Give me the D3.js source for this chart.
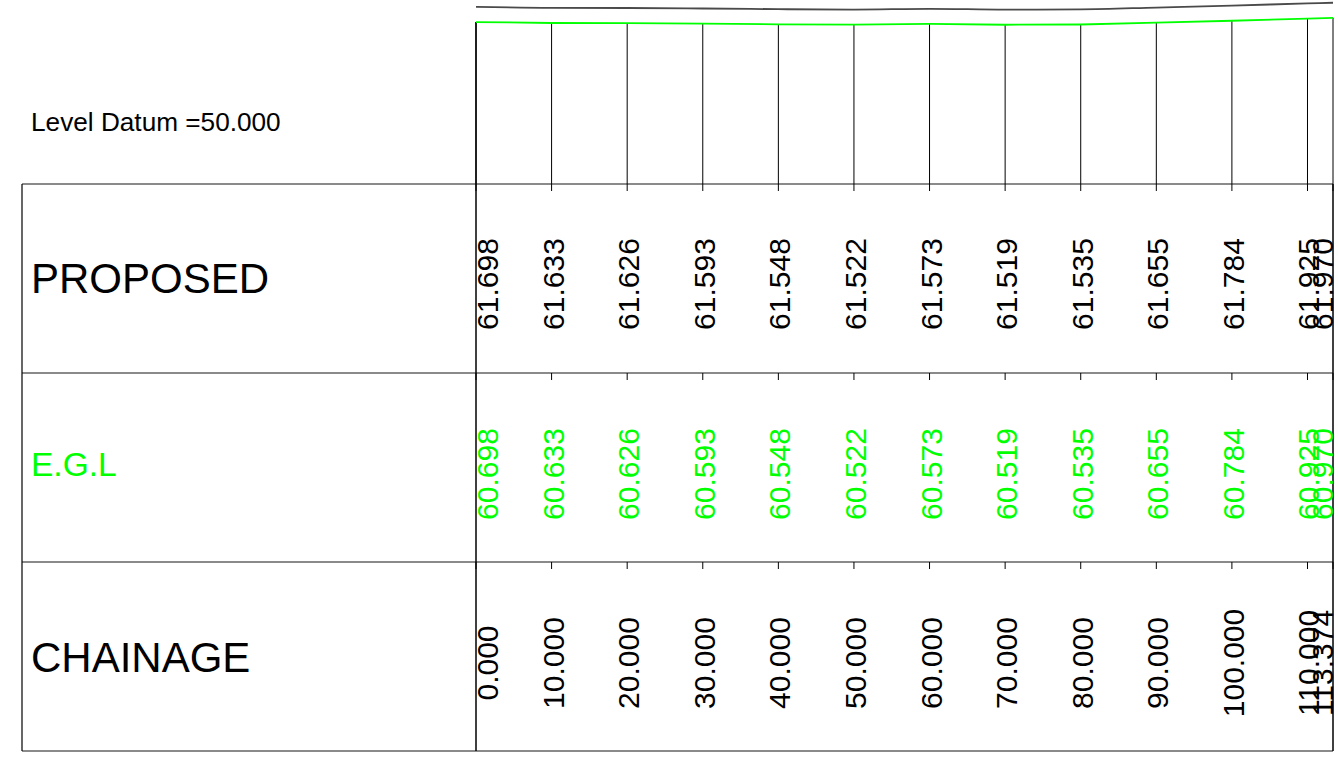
<!DOCTYPE html>
<html>
<head>
<meta charset="utf-8">
<script src="https://cdn.jsdelivr.net/npm/d3@7"></script>
<style>
  body { margin: 0; background: #fff; }
  svg { display: block; }
  text { font-family: "Liberation Sans", Arial, sans-serif; }
</style>
</head>
<body>
<svg width="1338" height="765"></svg>
<script>
// section data
var chainage = [0, 10, 20, 30, 40, 50, 60, 70, 80, 90, 100, 110, 113.374];
var proposed = [61.698, 61.633, 61.626, 61.593, 61.548, 61.522, 61.573, 61.519, 61.535, 61.655, 61.784, 61.925, 61.970];
var egl = [60.698, 60.633, 60.626, 60.593, 60.548, 60.522, 60.573, 60.519, 60.535, 60.655, 60.784, 60.925, 60.970];
var rowLabels = ["PROPOSED", "E.G.L", "CHAINAGE"];
var datum = 50;

var svg = d3.select("svg");

var left = 22, split = 476, right = 1333;
var rows = [184, 373, 562, 751];
var green = "#00ff00";

var x = d3.scaleLinear().domain([0, 113.374]).range([split, right]);
var y = d3.scaleLinear().domain([datum, datum + 10]).range([rows[0], rows[0] - 151.4]);

var pts = chainage.map(function(c, i) {
  return { ch: c, pro: proposed[i], egl: egl[i] };
});

// datum text
svg.append("text")
  .attr("x", 31)
  .attr("y", 131)
  .attr("font-size", 26.2)
  .attr("fill", "#000")
  .text("Level Datum =" + datum.toFixed(3));

// table grid
svg.selectAll(".hline")
  .data(rows)
  .enter()
  .append("line")
  .attr("class", "hline")
  .attr("x1", left).attr("x2", right)
  .attr("y1", (d) => d).attr("y2", (d) => d)
  .attr("stroke", "#8a8a8a")
  .attr("stroke-width", 2);

svg.append("line")
  .attr("x1", left).attr("x2", left)
  .attr("y1", rows[0]).attr("y2", rows[3])
  .attr("stroke", "#000").attr("stroke-width", 1.2);

svg.append("line")
  .attr("x1", right).attr("x2", right)
  .attr("y1", rows[0]).attr("y2", rows[3])
  .attr("stroke", "#000").attr("stroke-width", 1.5);

svg.append("line")
  .attr("x1", split).attr("x2", split)
  .attr("y1", y(egl[0])).attr("y2", rows[3])
  .attr("stroke", "#000").attr("stroke-width", 1.5);

// station verticals from ground line down through datum
svg.selectAll(".station")
  .data(pts)
  .enter()
  .append("line")
  .attr("class", "station")
  .attr("x1", (d) => x(d.ch)).attr("x2", (d) => x(d.ch))
  .attr("y1", (d) => y(d.egl)).attr("y2", rows[0] + 7)
  .attr("stroke", "#000").attr("stroke-width", 1);

// small ticks under row lines
[rows[1], rows[2]].forEach(function(r) {
  svg.selectAll(null)
    .data(pts)
    .enter()
    .append("line")
    .attr("x1", (d) => x(d.ch)).attr("x2", (d) => x(d.ch))
    .attr("y1", r).attr("y2", r + 7)
    .attr("stroke", "#000").attr("stroke-width", 1);
});

// profile lines
var lineEgl = d3.line().x((d) => x(d.ch)).y((d) => y(d.egl));
var linePro = d3.line().x((d) => x(d.ch)).y((d) => y(d.pro)).curve(d3.curveMonotoneX);

svg.append("path")
  .datum(pts)
  .attr("d", linePro)
  .attr("fill", "none")
  .attr("stroke", "#4a4a4a")
  .attr("stroke-width", 1.8);

svg.append("path")
  .datum(pts)
  .attr("d", lineEgl)
  .attr("fill", "none")
  .attr("stroke", green)
  .attr("stroke-width", 1.8);

// row titles
var titleY = [293, 476, 672];
var titleSize = [42, 33.5, 42];
svg.selectAll(".rowtitle")
  .data(rowLabels)
  .enter()
  .append("text")
  .attr("class", "rowtitle")
  .attr("x", 31)
  .attr("y", (d, i) => titleY[i])
  .attr("font-size", (d, i) => titleSize[i])
  .attr("fill", (d, i) => i == 1 ? green : "#000")
  .text((d) => d);

// rotated values, kept inside the table
function labelX(d) {
  return Math.min(Math.max(x(d.ch) + 12, split + 22), right);
}

var cols = [
  { key: "pro", cy: 284, color: "#000", fmt: (d) => d.pro.toFixed(3) },
  { key: "egl", cy: 474, color: green, fmt: (d) => d.egl.toFixed(3) },
  { key: "ch", cy: 663, color: "#000", fmt: (d) => d.ch.toFixed(3) }
];

cols.forEach(function(c) {
  svg.selectAll(".v-" + c.key)
    .data(pts)
    .enter()
    .append("text")
    .attr("class", "v-" + c.key)
    .attr("transform", (d) => "translate(" + labelX(d) + "," + c.cy + ") rotate(-90)")
    .attr("text-anchor", "middle")
    .attr("font-size", 30)
    .attr("fill", c.color)
    .text(c.fmt);
});
</script>
</body>
</html>
